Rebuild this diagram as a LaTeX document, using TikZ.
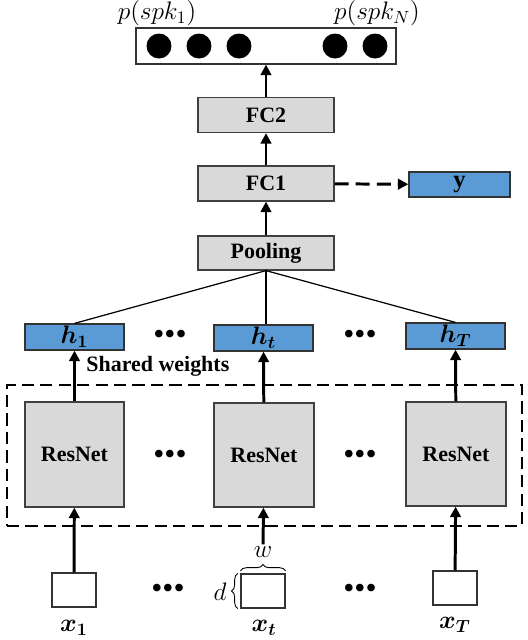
\documentclass[tikz,border=0pt]{standalone}
\usepackage{amsmath,bm}
\usepackage{fontspec}
\setmainfont{Liberation Serif}
\usetikzlibrary{arrows.meta,decorations.pathreplacing}
\definecolor{boxgray}{HTML}{D9D9D9}
\definecolor{hblue}{HTML}{5B9BD5}
\tikzset{
	graybox/.style={draw=black!75, fill=boxgray, line width=0.7pt, inner sep=0pt, font=\fontsize{12.5}{14}\selectfont\bfseries},
	bluebox/.style={draw=black!80, fill=hblue, line width=0.7pt, inner sep=0pt, minimum width=1.98cm, minimum height=0.52cm, font=\fontsize{14}{16}\selectfont},
	inbox/.style={draw=black!80, fill=white, line width=0.7pt, inner sep=0pt, minimum width=0.88cm, minimum height=0.68cm},
	mathlbl/.style={inner sep=1pt, font=\fontsize{14}{16}\selectfont},
	dotsrow/.style={inner sep=0pt, font=\fontsize{18}{18}\selectfont},
	fwd/.style={line width=1.7pt, -{Triangle[width=6pt,length=6pt]}},
}
\begin{document}
\begin{tikzpicture}[x=0.02cm,y=-0.02cm]
	\useasboundingbox (0,0) rectangle (528,640);
	% output layer
	\node[draw=black!80, line width=0.7pt, minimum width=5.2cm, minimum height=0.72cm] (out) at (266,46) {};
	\foreach \cx/\nm in {159/c1,199/c2,239/c3,335/c4,375/c5}
		\node[circle, fill=black, minimum size=0.5cm, inner sep=0pt] (\nm) at (\cx,46) {};
	\node[mathlbl] (p1) at (157,13) {$p(spk_1)$};
	\node[mathlbl] (pN) at (377,13) {$p(spk_N)$};
	% fully connected part
	\node[graybox, minimum width=2.72cm, minimum height=0.7cm] (fc2) at (266,115) {FC2};
	\node[graybox, minimum width=2.72cm, minimum height=0.7cm] (fc1) at (266,183.5) {FC1};
	\node[graybox, minimum width=2.72cm, minimum height=0.68cm] (pool) at (266,253) {Pooling};
	\node[bluebox, minimum width=2.02cm, minimum height=0.5cm] (yout) at (459.5,184.5) {$\mathbf{y}$};
	\draw[fwd] (fc2) -- (out);
	\draw[fwd] (fc1) -- (fc2);
	\draw[fwd] (pool) -- (fc1);
	\draw[line width=1.7pt, dash pattern=on 8pt off 4pt, -{Triangle[width=6pt,length=6pt]}] (fc1) -- (yout);
	% frame embeddings
	\node[bluebox] (h1) at (74.5,337) {$\boldsymbol{h}_{\boldsymbol{1}}$};
	\node[bluebox] (ht) at (263.5,338) {$\boldsymbol{h}_{\boldsymbol{t}}$};
	\node[bluebox] (hT) at (455.5,336) {$\boldsymbol{h}_{\boldsymbol{T}}$};
	\draw[line width=0.7pt] (pool.south) -- (h1.north);
	\draw[line width=0.7pt] (pool.south) -- (pool.south |- ht.north);
	\draw[line width=0.7pt] (pool.south) -- (hT.north);
	\node[dotsrow] (dh1) at (170,337) {\textbullet\textbullet\textbullet};
	\node[dotsrow] (dh2) at (360,337) {\textbullet\textbullet\textbullet};
	\node[anchor=west, inner sep=0pt, font=\fontsize{12.5}{14}\selectfont\bfseries] (shared) at (86,366) {Shared weights};
	% shared ResNet
	\node[draw, line width=1.3pt, dash pattern=on 7pt off 3.5pt, minimum width=10.3cm, minimum height=2.82cm] (frame) at (264.5,455.5) {};
	\node[graybox, minimum width=1.98cm, minimum height=2.1cm] (r1) at (74.5,454.5) {ResNet};
	\node[graybox, minimum width=2cm, minimum height=2.08cm] (rt) at (264,455) {ResNet};
	\node[graybox, minimum width=2cm, minimum height=2.08cm] (rT) at (456,454) {ResNet};
	\node[dotsrow] (dr1) at (170,457) {\textbullet\textbullet\textbullet};
	\node[dotsrow] (dr2) at (360,457) {\textbullet\textbullet\textbullet};
	\draw[fwd] (r1) -- (h1);
	\draw[fwd] (rt) -- (ht);
	\draw[fwd] (rT) -- (hT);
	% inputs
	\node[inbox] (x1) at (74,590) {};
	\node[inbox] (xt) at (263,591) {};
	\node[inbox] (xT) at (455,588) {};
	\node[mathlbl] (lx1) at (74,628) {$\boldsymbol{x}_{\boldsymbol{1}}$};
	\node[mathlbl] (lxt) at (264,628) {$\boldsymbol{x}_{\boldsymbol{t}}$};
	\node[mathlbl] (lxT) at (455,625) {$\boldsymbol{x}_{\boldsymbol{T}}$};
	\node[dotsrow] (dx1) at (168,591) {\textbullet\textbullet\textbullet};
	\node[dotsrow] (dx2) at (360,591) {\textbullet\textbullet\textbullet};
	\draw[line width=0.5pt, decorate, decoration={brace, amplitude=3.5pt}] ([yshift=1.5pt]xt.north west) -- ([yshift=1.5pt]xt.north east);
	\draw[line width=0.5pt, decorate, decoration={brace, amplitude=3.5pt}] ([xshift=-1.5pt]xt.south west) -- ([xshift=-1.5pt]xt.north west);
	\node[mathlbl] (wlbl) at (263,552) {$w$};
	\node[mathlbl] (dlbl) at (220,592) {$d$};
	\draw[fwd] (x1) -- (r1);
	\draw[fwd] (wlbl) -- (rt);
	\draw[fwd] (xT) -- (rT);
\end{tikzpicture}
\end{document}
